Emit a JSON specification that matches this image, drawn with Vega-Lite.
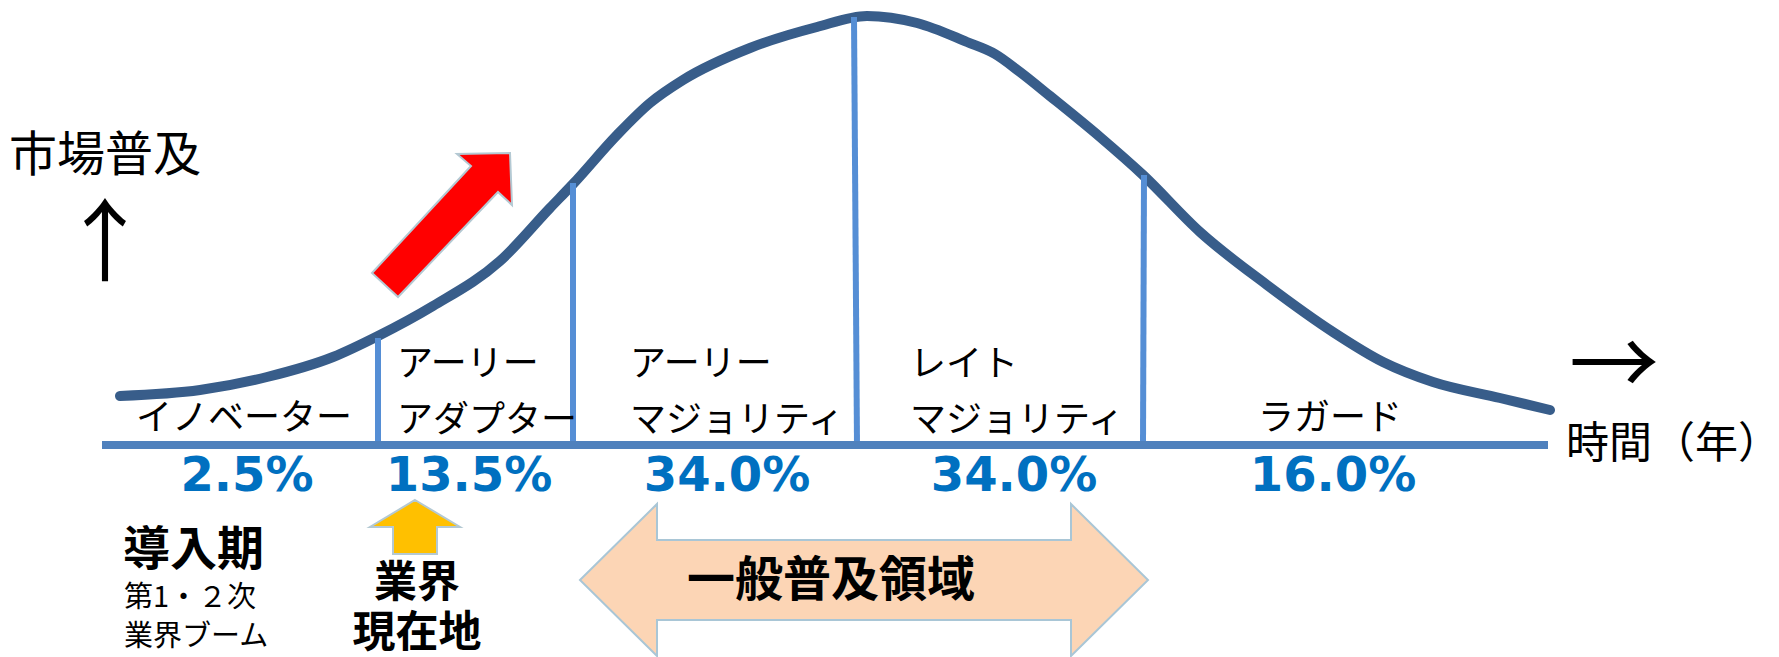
{
  "$schema": "https://vega.github.io/schema/vega-lite/v6.json",
  "width": 1779,
  "height": 657,
  "autosize": "none",
  "padding": 0,
  "background": "white",
  "config": {"view": {"stroke": null}},
  "datasets": {
    "curve": [
      {"x": 120, "y": 396}, {"x": 200, "y": 390}, {"x": 267, "y": 377}, {"x": 333, "y": 357},
      {"x": 378, "y": 336}, {"x": 433, "y": 306}, {"x": 500, "y": 261}, {"x": 550, "y": 208},
      {"x": 573, "y": 184}, {"x": 617, "y": 135}, {"x": 650, "y": 103}, {"x": 683, "y": 80},
      {"x": 750, "y": 48}, {"x": 817, "y": 27}, {"x": 867, "y": 16}, {"x": 917, "y": 23},
      {"x": 967, "y": 42}, {"x": 995, "y": 54}, {"x": 1020, "y": 72}, {"x": 1050, "y": 96},
      {"x": 1100, "y": 137}, {"x": 1143, "y": 175}, {"x": 1200, "y": 232}, {"x": 1267, "y": 285},
      {"x": 1333, "y": 332}, {"x": 1383, "y": 362}, {"x": 1433, "y": 382}, {"x": 1500, "y": 398},
      {"x": 1550, "y": 410}
    ],
    "dividers": [
      {"x": 378, "x2": 378, "y": 338, "y2": 446},
      {"x": 573, "x2": 573, "y": 183, "y2": 446},
      {"x": 854, "x2": 857, "y": 17, "y2": 446},
      {"x": 1144, "x2": 1143, "y": 175, "y2": 446}
    ],
    "baseline": [{"x": 102, "x2": 1548, "y": 445}],
    "redArrow": [
      {"i": 1, "x": 372, "y": 273}, {"i": 2, "x": 471, "y": 166}, {"i": 3, "x": 457, "y": 154},
      {"i": 4, "x": 510, "y": 153}, {"i": 5, "x": 512, "y": 205}, {"i": 6, "x": 498, "y": 192},
      {"i": 7, "x": 398, "y": 297}
    ],
    "orangeArrow": [
      {"i": 1, "x": 415, "y": 500}, {"i": 2, "x": 460, "y": 527}, {"i": 3, "x": 437, "y": 527},
      {"i": 4, "x": 437, "y": 554}, {"i": 5, "x": 393, "y": 554}, {"i": 6, "x": 393, "y": 527},
      {"i": 7, "x": 370, "y": 527}
    ],
    "peachArrow": [
      {"i": 1, "x": 580, "y": 580}, {"i": 2, "x": 657, "y": 504}, {"i": 3, "x": 657, "y": 540},
      {"i": 4, "x": 1071, "y": 540}, {"i": 5, "x": 1071, "y": 504}, {"i": 6, "x": 1148, "y": 580},
      {"i": 7, "x": 1071, "y": 656}, {"i": 8, "x": 1071, "y": 620}, {"i": 9, "x": 657, "y": 620},
      {"i": 10, "x": 657, "y": 656}
    ],
    "catCenter": [
      {"x": 244, "y": 419, "t": "イノベーター"},
      {"x": 1330, "y": 419, "t": "ラガード"}
    ],
    "catLeft": [
      {"x": 397, "y": 365, "t": "アーリー"},
      {"x": 397, "y": 421, "t": "アダプター"},
      {"x": 630, "y": 365, "t": "アーリー"},
      {"x": 630, "y": 421, "t": "マジョリティ"},
      {"x": 910, "y": 365, "t": "レイト"},
      {"x": 910, "y": 421, "t": "マジョリティ"}
    ],
    "pct": [
      {"x": 247, "y": 477, "t": "2.5%"},
      {"x": 469, "y": 477, "t": "13.5%"},
      {"x": 727, "y": 477, "t": "34.0%"},
      {"x": 1014, "y": 477, "t": "34.0%"},
      {"x": 1333, "y": 477, "t": "16.0%"}
    ],
    "yLabel": [{"x": 9, "y": 157, "t": "市場普及"}],
    "xLabel": [{"x": 1566, "y": 445, "t": "時間（年）"}],
    "arrows": [
      {"x": 105, "y": 247, "t": "↑"},
      {"x": 1614, "y": 369, "t": "→"}
    ],
    "boldLeft": [{"x": 123, "y": 551, "t": "導入期"}],
    "boldCenter": [
      {"x": 417, "y": 584, "t": "業界"},
      {"x": 417, "y": 634, "t": "現在地"}
    ],
    "bigBold": [{"x": 831, "y": 582, "t": "一般普及領域"}],
    "small": [
      {"x": 124, "y": 598, "t": "第1・２次"},
      {"x": 124, "y": 637, "t": "業界ブーム"}
    ]
  },
  "encoding": {
    "x": {"field": "x", "type": "quantitative", "scale": {"domain": [0, 1779], "nice": false, "zero": false}, "axis": null},
    "y": {"field": "y", "type": "quantitative", "scale": {"domain": [0, 657], "nice": false, "zero": false, "reverse": true}, "axis": null}
  },
  "layer": [
    {
      "data": {"name": "peachArrow"},
      "mark": {"type": "line", "interpolate": "linear-closed", "fill": "#fcd5b5", "stroke": "#a9c6d6", "strokeWidth": 2},
      "encoding": {"order": {"field": "i", "type": "quantitative"}}
    },
    {
      "data": {"name": "orangeArrow"},
      "mark": {"type": "line", "interpolate": "linear-closed", "fill": "#ffc000", "stroke": "#b4c9d3", "strokeWidth": 2},
      "encoding": {"order": {"field": "i", "type": "quantitative"}}
    },
    {
      "data": {"name": "redArrow"},
      "mark": {"type": "line", "interpolate": "linear-closed", "fill": "#ff0000", "stroke": "#b4c9d3", "strokeWidth": 2},
      "encoding": {"order": {"field": "i", "type": "quantitative"}}
    },
    {
      "data": {"name": "curve"},
      "mark": {"type": "line", "interpolate": "monotone", "color": "#385d8a", "strokeWidth": 10, "strokeCap": "round"},
      "encoding": {}
    },
    {
      "data": {"name": "dividers"},
      "mark": {"type": "rule", "color": "#558ed5", "strokeWidth": 6},
      "encoding": {"x2": {"field": "x2"}, "y2": {"field": "y2"}}
    },
    {
      "data": {"name": "baseline"},
      "mark": {"type": "rule", "color": "#4f81bd", "strokeWidth": 8},
      "encoding": {"x2": {"field": "x2"}}
    },
    {
      "data": {"name": "catCenter"},
      "mark": {"type": "text", "font": "Noto Sans CJK JP", "fontSize": 36, "color": "#000000", "align": "center", "baseline": "middle"},
      "encoding": {"text": {"field": "t"}}
    },
    {
      "data": {"name": "catLeft"},
      "mark": {"type": "text", "font": "Noto Sans CJK JP", "fontSize": 36, "color": "#000000", "align": "left", "baseline": "middle"},
      "encoding": {"text": {"field": "t"}}
    },
    {
      "data": {"name": "pct"},
      "mark": {"type": "text", "font": "DejaVu Sans", "fontWeight": "bold", "fontSize": 48, "color": "#0070c0", "align": "center", "baseline": "middle"},
      "encoding": {"text": {"field": "t"}}
    },
    {
      "data": {"name": "yLabel"},
      "mark": {"type": "text", "font": "Noto Sans CJK JP", "fontSize": 48, "color": "#000000", "align": "left", "baseline": "middle"},
      "encoding": {"text": {"field": "t"}}
    },
    {
      "data": {"name": "xLabel"},
      "mark": {"type": "text", "font": "Noto Sans CJK JP", "fontSize": 43, "color": "#000000", "align": "left", "baseline": "middle"},
      "encoding": {"text": {"field": "t"}}
    },
    {
      "data": {"name": "arrows"},
      "mark": {"type": "text", "font": "Noto Sans CJK JP", "fontSize": 90, "color": "#000000", "align": "center", "baseline": "middle"},
      "encoding": {"text": {"field": "t"}}
    },
    {
      "data": {"name": "boldLeft"},
      "mark": {"type": "text", "font": "Noto Sans CJK JP", "fontWeight": "bold", "fontSize": 47, "color": "#000000", "align": "left", "baseline": "middle"},
      "encoding": {"text": {"field": "t"}}
    },
    {
      "data": {"name": "boldCenter"},
      "mark": {"type": "text", "font": "Noto Sans CJK JP", "fontWeight": "bold", "fontSize": 43, "color": "#000000", "align": "center", "baseline": "middle"},
      "encoding": {"text": {"field": "t"}}
    },
    {
      "data": {"name": "bigBold"},
      "mark": {"type": "text", "font": "Noto Sans CJK JP", "fontWeight": "bold", "fontSize": 48, "color": "#000000", "align": "center", "baseline": "middle"},
      "encoding": {"text": {"field": "t"}}
    },
    {
      "data": {"name": "small"},
      "mark": {"type": "text", "font": "Noto Sans CJK JP", "fontSize": 29, "color": "#000000", "align": "left", "baseline": "middle"},
      "encoding": {"text": {"field": "t"}}
    }
  ]
}
